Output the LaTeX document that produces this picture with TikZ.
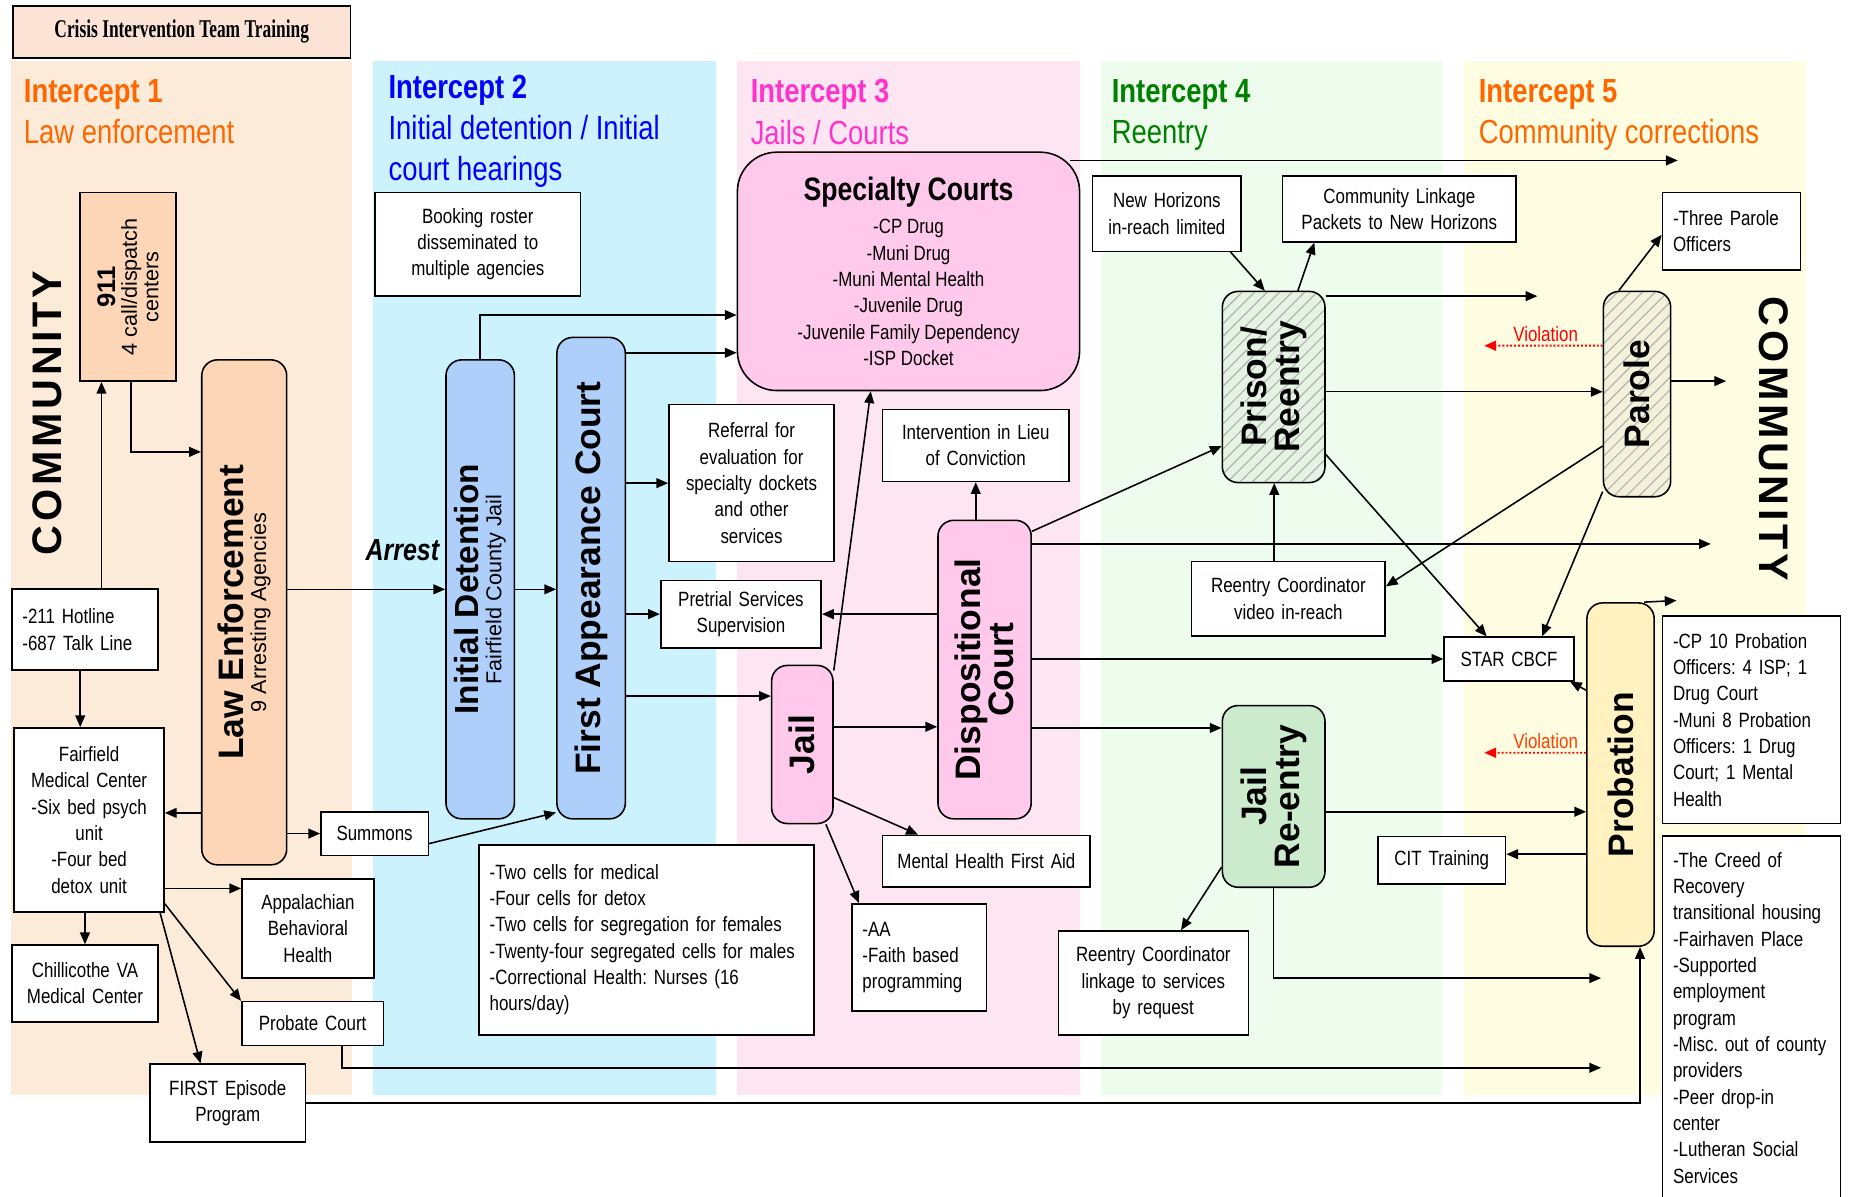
\documentclass[tikz,border=0pt]{standalone}
\usepackage{fontspec}
\setmainfont{Liberation Sans}[FakeStretch=0.82]
\newfontfamily\widesans{Liberation Sans}
\newfontfamily\commfont{Liberation Sans}[LetterSpace=9]
\newfontfamily\titleserif{Liberation Serif}[FakeStretch=0.68]
\usetikzlibrary{arrows.meta,calc,patterns.meta}

\definecolor{bgone}{HTML}{FDEBDA}
\definecolor{bgtwo}{HTML}{CCF2FD}
\definecolor{bgthree}{HTML}{FEE5F2}
\definecolor{bgfour}{HTML}{EDFCED}
\definecolor{bgfive}{HTML}{FFFDE1}
\definecolor{titlefill}{HTML}{FBE3D6}
\definecolor{peachbox}{HTML}{FCD6B6}
\definecolor{bluebox}{HTML}{AFCFFB}
\definecolor{pinkbox}{HTML}{FFC9EC}
\definecolor{greenbox}{HTML}{CBEBCC}
\definecolor{yellowbox}{HTML}{FFF2C0}
\definecolor{hatchgreen}{HTML}{E4F3E2}
\definecolor{hatchyellow}{HTML}{F4F1DA}
\definecolor{hdorange}{HTML}{FF6600}
\definecolor{hdblue}{HTML}{0000FF}
\definecolor{hdpink}{HTML}{FF33CC}
\definecolor{hdgreen}{HTML}{008000}
\definecolor{violred}{HTML}{FF0000}
\definecolor{violorange}{HTML}{FF4000}

\begin{document}
\frenchspacing
\begin{tikzpicture}[x=0.6pt,y=-0.6pt,
  font=\fontsize{10.5}{13.4}\selectfont,
  sz/.code 2 args={\pgfmathsetmacro\bxw{(#1-12)*0.6}\pgfmathsetmacro\bxh{#2*0.6}%
    \edef\bxopts{text width=\bxw pt,minimum height=\bxh pt}\expandafter\tikzset\expandafter{\bxopts}},
  lsz/.code 2 args={\pgfmathsetmacro\bxw{(#1-18)*0.6}\pgfmathsetmacro\bxh{#2*0.6}%
    \edef\bxopts{text width=\bxw pt,minimum height=\bxh pt}\expandafter\tikzset\expandafter{\bxopts}},
  wh/.code 2 args={\pgfmathsetmacro\bxw{#1*0.6}\pgfmathsetmacro\bxh{#2*0.6}%
    \edef\bxopts{minimum width=\bxw pt,minimum height=\bxh pt}\expandafter\tikzset\expandafter{\bxopts}},
  box/.style={draw,line width=0.8pt,fill=white,align=center,inner xsep=3.6pt,inner ysep=2pt},
  lbox/.style={box,align=left,inner xsep=5.4pt},
  rbox/.style={draw,line width=0.8pt,rounded corners=8pt,inner sep=0pt},
  hatch/.style={rbox,preaction={fill=#1},pattern={Lines[angle=45,distance=4.5pt,line width=0.6pt]},pattern color=black!30},
  vtext/.style={rotate=90,align=center,inner sep=0pt,font=\widesans\fontsize{11}{11.5}\selectfont},
  bigv/.style={font=\widesans\bfseries\fontsize{18}{16.8}\selectfont},
  hdr/.style={anchor=north west,align=left,inner sep=0pt,font=\fontsize{17}{21}\selectfont},
  comm/.style={font=\commfont\bfseries\fontsize{21}{21}\selectfont},
  arr/.style={line width=0.8pt,-{Triangle[length=6pt,width=5pt]}},
  viol/.style={densely dotted,line width=1pt,-{Triangle[length=6pt,width=5pt]}}]

\useasboundingbox (0,0) rectangle (1568,1014);
\fill[white] (0,0) rectangle (1568,1014);

\fill[bgone] (9,52) rectangle (298,928);
\fill[bgtwo] (316,52) rectangle (607,928);
\fill[bgthree] (625,52) rectangle (915,928);
\fill[bgfour] (933,52) rectangle (1222,928);
\fill[bgfive] (1241,52) rectangle (1531,928);

\node[box,fill=titlefill,wh={286}{44},font=\titleserif\bfseries\fontsize{13}{15}\selectfont] (citbox) at (154,27) {Crisis Intervention Team Training};

\node[hdr,text=hdorange] (hd1) at (20,67) {{\bfseries Intercept 1}\\Law enforcement};
\node[hdr,text=hdblue] (hd2) at (329,63) {{\bfseries Intercept 2}\\Initial detention / Initial\\court hearings};
\node[hdr,text=hdpink] (hd3) at (636,67) {{\bfseries Intercept 3}\\Jails / Courts};
\node[hdr,text=hdgreen] (hd4) at (942,67) {{\bfseries Intercept 4}\\Reentry};
\node[hdr,text=hdorange] (hd5) at (1253,67) {{\bfseries Intercept 5}\\Community corrections};

\node[rotate=90,comm] (commleft) at (40,350) {COMMUNITY};
\node[rotate=-90,comm] (commright) at (1503,372) {COMMUNITY};

\node[box,fill=peachbox,wh={81}{160}] (dispatch) at (108.5,243) {};
\node[vtext,font=\widesans\fontsize{11}{11}\selectfont] (dispatcht) at (dispatch) {{\bfseries\fontsize{13}{13}\selectfont 911}\\4 call/dispatch\\centers};
\node[rbox,fill=peachbox,wh={72}{428}] (lawenf) at (207,519) {};
\node[vtext] (lawenft) at (lawenf) {{\bfseries\fontsize{18}{18}\selectfont Law Enforcement}\\9 Arresting Agencies};
\node[lbox,lsz={124}{69}] (hotline) at (72,533.5) {-211 Hotline\\-687 Talk Line};
\node[box,sz={127}{156}] (fairfield) at (75.5,695) {Fairfield\\Medical Center\\-Six bed psych\\unit\\-Four bed\\detox unit};
\node[box,sz={124}{65}] (chillicothe) at (72,833.5) {Chillicothe VA\\Medical Center};
\node[box,sz={112}{84}] (appalachian) at (261,787) {Appalachian\\Behavioral\\Health};
\node[box,sz={120}{37}] (probate) at (265,867.5) {Probate Court};
\node[box,sz={132}{66}] (firstep) at (193,935) {FIRST Episode\\Program};
\node[box,sz={91}{37}] (summons) at (317.5,706.5) {Summons};
\node[font=\bfseries\itshape\fontsize{15.5}{18}\selectfont] (arrest) at (341,466) {Arrest};

\node[box,sz={174}{88}] (booking) at (405,207) {Booking roster\\disseminated to\\multiple agencies};
\node[rbox,fill=bluebox,wh={58}{389}] (initdet) at (407,499.5) {};
\node[vtext] (initdett) at (initdet) {{\bfseries\fontsize{17}{17}\selectfont Initial Detention}\\Fairfield County Jail};
\node[rbox,fill=bluebox,wh={58}{408}] (firstapp) at (501,490) {};
\node[vtext,bigv] (firstappt) at (firstapp) {First Appearance Court};
\node[lbox,lsz={284}{161}] (cells) at (548,796.5) {-Two cells for medical\\-Four cells for detox\\-Two cells for segregation for females\\-Twenty-four segregated cells for males\\-Correctional Health: Nurses (16\\hours/day)};

\node[rbox,rounded corners=20pt,fill=pinkbox,wh={290}{202},align=center] (specialty) at (770,230) {{\bfseries\fontsize{16.5}{18}\selectfont Specialty Courts}\\[3.6pt]-CP Drug\\-Muni Drug\\-Muni Mental Health\\-Juvenile Drug\\-Juvenile Family Dependency\\-ISP Docket};
\node[box,sz={140}{133}] (referral) at (637,409.5) {Referral for\\evaluation for\\specialty dockets\\and other\\services};
\node[box,sz={136}{57}] (pretrial) at (628,520.5) {Pretrial Services\\Supervision};
\node[box,sz={158}{61}] (lieu) at (827,377.5) {Intervention in Lieu\\of Conviction};
\node[rbox,fill=pinkbox,wh={52}{134}] (jail) at (680,631) {};
\node[vtext,bigv] (jailt) at (jail) {Jail};
\node[rbox,fill=pinkbox,wh={79}{253}] (dispo) at (834.5,567.5) {};
\node[vtext,bigv] (dispot) at (dispo) {Dispositional\\Court};
\node[box,sz={176}{44}] (mhfa) at (836,730) {Mental Health First Aid};
\node[lbox,lsz={114}{91}] (aa) at (779,811.5) {-AA\\-Faith based\\programming};

\node[box,sz={126}{64}] (newhoriz) at (989,181) {New Horizons\\in-reach limited};
\node[box,sz={198}{56}] (linkage) at (1186,177) {Community Linkage\\Packets to New Horizons};
\node[hatch=hatchgreen,wh={87}{162}] (prison) at (1079.5,328) {};
\node[vtext,bigv] (prisont) at (prison) {Prison/\\Reentry};
\node[box,sz={164}{63}] (rcvideo) at (1092,507.5) {Reentry Coordinator\\video in-reach};
\node[rbox,fill=greenbox,wh={87}{154}] (jailre) at (1079.5,675) {};
\node[vtext,bigv] (jailret) at (jailre) {Jail\\Re-entry};
\node[box,sz={161}{88}] (rclink) at (977.5,833) {Reentry Coordinator\\linkage to services\\by request};
\node[box,sz={108}{40}] (cittrain) at (1222,729) {CIT Training};

\node[lbox,lsz={117}{66}] (officers) at (1467.5,196) {-Three Parole\\Officers};
\node[hatch=hatchyellow,wh={57}{174}] (parole) at (1387.5,334) {};
\node[vtext,bigv] (parolet) at (parole) {Parole};
\node[box,sz={110}{37}] (star) at (1279,558.5) {STAR CBCF};
\node[rbox,fill=yellowbox,wh={57}{291}] (probation) at (1373.5,656.5) {};
\node[vtext,bigv] (probationt) at (probation) {Probation};
\node[lbox,lsz={151}{176}] (probinfo) at (1484.5,610) {-CP 10 Probation\\Officers: 4 ISP; 1\\Drug Court\\-Muni 8 Probation\\Officers: 1 Drug\\Court; 1 Mental\\Health};
\node[lbox,lsz={151}{308},anchor=north] (services) at (1484.5,708) {-The Creed of\\Recovery\\transitional~housing\\-Fairhaven Place\\-Supported\\employment\\program\\-Misc.~out~of~county\\providers\\-Peer drop-in\\center\\-Lutheran Social\\Services};

\coordinate (endprobate) at (1357,905);
\coordinate (endspecialty) at (1422,136);
\coordinate (enddispo) at (1450,461);
\coordinate (endprison) at (1303,251);
\coordinate (endjailre) at (1357,829);
\coordinate (endparole) at (1463,323);
\coordinate (endprobation) at (1421,509);
\coordinate (vio1) at (1258,293);
\coordinate (vio2) at (1258,638);

\draw[arr] ([xshift=8.4pt]hotline.north) -- ([xshift=8.4pt]hotline.north |- dispatch.south);
\draw[arr] ([xshift=1.5pt]dispatch.south) |- ([yshift=81.6pt]lawenf.west);
\draw[arr] ([xshift=-2.4pt]hotline.south) -- ([xshift=-2.4pt]hotline.south |- fairfield.north);
\draw[arr] ([yshift=-102pt]lawenf.west) -- ([yshift=-102pt]lawenf.west -| fairfield.east);
\draw[arr] (lawenf.east |- summons.west) -- (summons.west);
\draw[arr] ([yshift=-5.1pt]summons.east) -- ([yshift=3.6pt]firstapp.south west);
\draw[arr] ([yshift=20.4pt]appalachian.west -| fairfield.east) -- ([yshift=20.4pt]appalachian.west);
\draw[arr] ([yshift=-42.6pt]fairfield.east) -- (probate.north west);
\draw[arr] (chillicothe.north |- fairfield.south) -- (chillicothe.north);
\draw[arr] ([xshift=-2.4pt]fairfield.south east) -- ([xshift=-13.8pt]firstep.north);
\draw[arr] ([xshift=15pt]probate.south) |- (endprobate);
\draw[arr] (firstep.east) -| ([xshift=9.9pt]probation.south);
\draw[arr] (lawenf.east |- initdet.west) -- (initdet.west);

\draw[arr] (initdet.north) |- ([yshift=-22.2pt]specialty.west);
\draw[arr] ([yshift=114.6pt]firstapp.east) -- ([yshift=114.6pt]firstapp.east -| specialty.west);
\draw[arr] (initdet.east) -- (initdet.east -| firstapp.west);
\draw[arr] (firstapp.east |- referral.west) -- (referral.west);
\draw[arr] (firstapp.east |- pretrial.west) -- (pretrial.west);
\draw[arr] ([yshift=24.6pt]jail.west -| firstapp.east) -- ([yshift=24.6pt]jail.west);

\draw[arr] ([yshift=-3pt]jail.north east) -- ([xshift=-19.2pt]specialty.south);
\draw[arr] ([xshift=-4.5pt]dispo.north) -- ([xshift=-4.5pt]dispo.north |- lieu.south);
\draw[arr] (dispo.west |- pretrial.east) -- (pretrial.east);
\draw[arr] ([yshift=9pt]jail.east) -- ([yshift=9pt]jail.east -| dispo.west);
\draw[arr] ([yshift=-27pt]jail.east) -- ([xshift=-34.8pt]mhfa.north);
\draw[arr] ([xshift=12pt]jail.south) -- ([xshift=-30.6pt]aa.north);
\draw[arr] ([xshift=-5.4pt]endspecialty -| specialty.east) -- (endspecialty);
\draw[arr] ([yshift=-6pt]dispo.north east) -- ([yshift=-30pt]prison.west);
\draw[arr] (dispo.east |- enddispo) -- (enddispo);
\draw[arr] (dispo.east |- star.west) -- (star.west);
\draw[arr] ([yshift=34.8pt]jailre.west -| dispo.east) -- ([yshift=34.8pt]jailre.west);

\draw[arr] ([xshift=32.4pt]newhoriz.south) -- ([xshift=-4.5pt]prison.north);
\draw[arr] ([xshift=12.3pt]prison.north) -- ([xshift=-43.2pt]linkage.south);
\draw[arr] (prison.east |- endprison) -- (endprison);
\draw[arr] ([yshift=-2.4pt]prison.east) -- ([yshift=-2.4pt]prison.east -| parole.west);
\draw[arr] ([yshift=-34.2pt]prison.east) -- ([xshift=-11.4pt]star.north);
\draw[arr] ([xshift=-7.2pt]rcvideo.north) -- ([xshift=-7.2pt]rcvideo.north |- prison.south);
\draw[arr] ([yshift=-36pt]jailre.west) -- ([xshift=14.1pt]rclink.north);
\draw[arr] ([yshift=-7.8pt]jailre.east) -- ([yshift=-7.8pt]jailre.east -| probation.west);
\draw[arr] (jailre.south) |- (endjailre);

\draw[arr] ([xshift=-9.3pt]parole.north) -- ([yshift=-1.8pt]officers.west);
\draw[arr] (parole.east |- endparole) -- (endparole);
\draw[arr] ([yshift=-26.4pt]parole.west) -- ([yshift=6.3pt]rcvideo.east);
\draw[arr] ([yshift=3pt]parole.south west) -- ([xshift=16.8pt]star.north);
\draw[arr] ([xshift=12pt]probation.north) -- (endprobation);
\draw[arr] ([yshift=42.9pt]probation.west) -- ([xshift=-2.4pt]star.south east);
\draw[arr] ([yshift=-40.5pt]probation.west) -- ([yshift=-40.5pt]probation.west -| cittrain.east);

\draw[viol,violred] ([yshift=24.6pt]parole.west) -- (vio1);
\node[text=violred] (vio1t) at (1310,283) {Violation};
\draw[viol,violred] ([yshift=11.1pt]probation.west) -- (vio2);
\node[text=violorange] (vio2t) at (1310,628) {Violation};
\end{tikzpicture}
\end{document}
